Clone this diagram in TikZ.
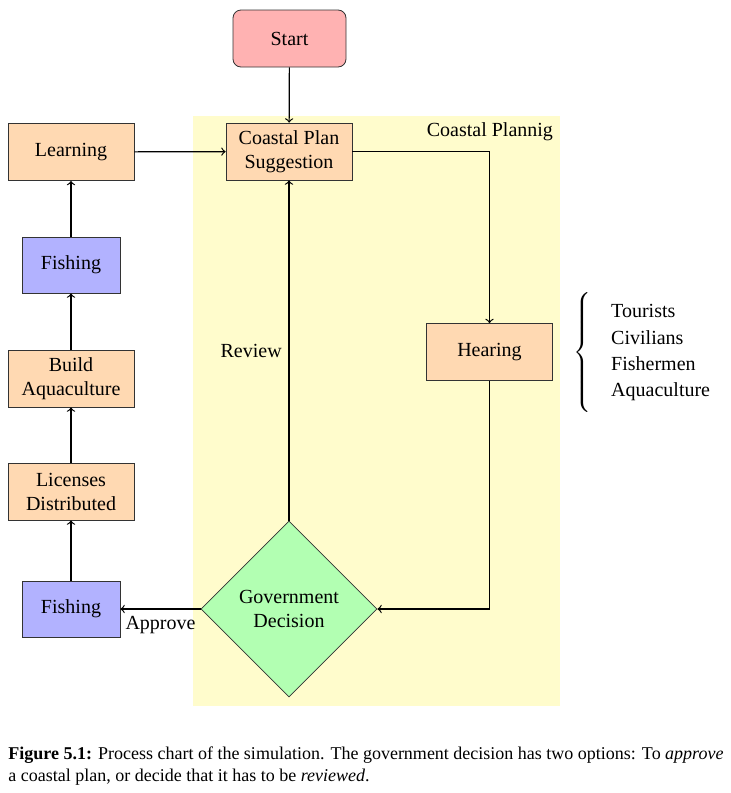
\documentclass[tikz,border=0pt]{standalone}
\usepackage{fontspec}
\setmainfont{Liberation Serif}
\usetikzlibrary{shapes.geometric}
\tikzset{
  process/.style={rectangle,draw=black!80,fill=orange!30,minimum width=63pt,minimum height=28.5pt,align=center,inner sep=2pt},
  fishbox/.style={rectangle,draw=black!80,fill=blue!30,minimum width=49pt,minimum height=28pt},
  startbox/.style={rectangle,rounded corners=4pt,draw=black!80,fill=red!30,minimum width=56.5pt,minimum height=28.5pt},
  decision/.style={diamond,draw=black!80,fill=green!30,minimum width=88pt,minimum height=88pt,inner sep=0pt,align=center},
  flow/.style={->,semithick}
}
\begin{document}
\begin{tikzpicture}[x=0.5pt,y=-0.5pt]
\useasboundingbox (0,0) rectangle (730,793);
\fill[yellow!20] (193,116) rectangle (560,706);
\node[anchor=north east] (area) at (560,116) {Coastal Plannig};
\node[startbox] (start) at (289.5,38.5) {Start};
\node[process] (plan) at (289,151.5) {Coastal Plan\\Suggestion};
\node[process] (hearing) at (489.5,352) {Hearing};
\node[decision] (decision) at (289,609) {Government\\Decision};
\node[process] (learning) at (71,152) {Learning};
\node[fishbox] (fishtop) at (71,265) {Fishing};
\node[process] (build) at (71,378.5) {Build\\Aquaculture};
\node[process] (licenses) at (71,491.5) {Licenses\\Distributed};
\node[fishbox] (fishbot) at (71,609) {Fishing};
\node[anchor=west] (groups) at (566,352) {$\left\{\rule[-28.5pt]{0pt}{62pt}\right.$\hspace{3pt}\def\arraystretch{1.1}\begin{tabular}{l}Tourists\\Civilians\\Fishermen\\Aquaculture\end{tabular}};
\draw[flow] (start) -- (plan);
\draw[flow] (learning) -- (plan);
\draw[flow] (plan) -| (hearing);
\draw[flow] (hearing) |- (decision);
\draw[flow] (decision) -- node[left] {Review} (plan);
\draw[flow] (decision) -- node[below] {Approve} (fishbot);
\draw[flow] (fishbot) -- (licenses);
\draw[flow] (licenses) -- (build);
\draw[flow] (build) -- (fishtop);
\draw[flow] (fishtop) -- (learning);
\node[anchor=north west,align=left,inner sep=0pt,font=\small] (caption) at (8,746) {\textbf{Figure 5.1:} Process chart of the simulation. The government decision has two options: To \emph{approve}\\a coastal plan, or decide that it has to be \emph{reviewed}.};
\end{tikzpicture}
\end{document}
